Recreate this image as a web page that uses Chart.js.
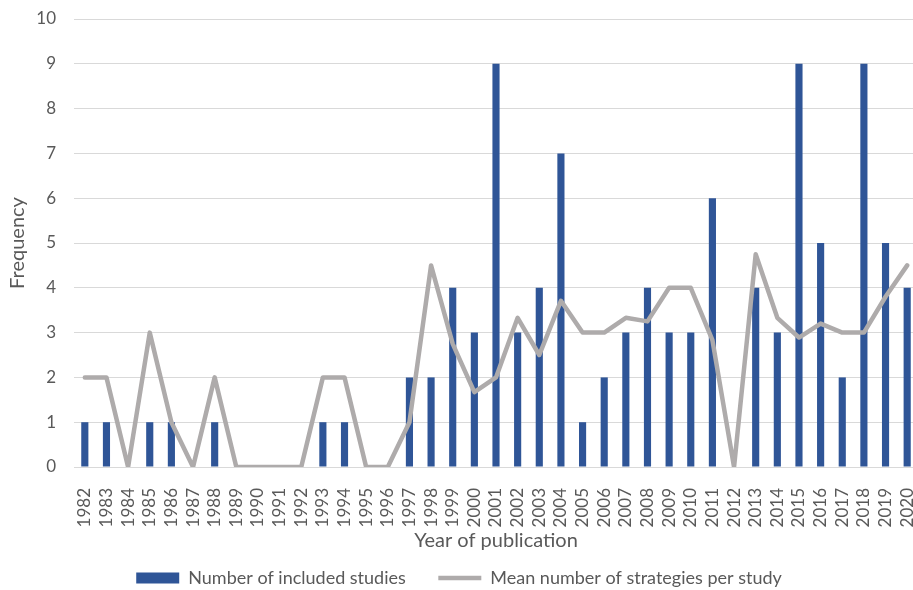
<!DOCTYPE html>
<html lang="en">
<head>
  <meta charset="UTF-8">
  <title>Studies per year</title>
  <style>
    html, body {
      margin: 0;
      padding: 0;
      overflow: hidden;
      background: #fff;
    }
    #chart {
      display: block;
    }
  </style>
</head>
<body>
  <canvas id="chart" width="918" height="597"></canvas>

  <script src="https://cdn.jsdelivr.net/npm/chart.js"></script>
  <script>
    // Data
    const years = [
      '1982', '1983', '1984', '1985', '1986', '1987', '1988', '1989', '1990', '1991',
      '1992', '1993', '1994', '1995', '1996', '1997', '1998', '1999', '2000', '2001',
      '2002', '2003', '2004', '2005', '2006', '2007', '2008', '2009', '2010', '2011',
      '2012', '2013', '2014', '2015', '2016', '2017', '2018', '2019', '2020'
    ];
    const includedStudies = [
      1, 1, 0, 1, 1, 0, 1, 0, 0, 0,
      0, 1, 1, 0, 0, 2, 2, 4, 3, 9,
      3, 4, 7, 1, 2, 3, 4, 3, 3, 6,
      0, 4, 3, 9, 5, 2, 9, 5, 4
    ];
    const meanStrategies = [
      2, 2, 0, 3, 1, 0, 2, 0, 0, 0,
      0, 2, 2, 0, 0, 1, 4.5, 2.75, 1.67, 2,
      3.33, 2.5, 3.71, 3, 3, 3.33, 3.25, 4, 4, 2.83,
      0, 4.75, 3.33, 2.89, 3.2, 3, 3, 3.8, 4.5
    ];
    const yTicks = [0, 1, 2, 3, 4, 5, 6, 7, 8, 9, 10];

    const textColor = '#595959';
    const gridColor = '#d9d9d9';
    const fontFamily = 'Lato, "Open Sans", sans-serif';

    const ctx = document.getElementById('chart').getContext('2d');
    new Chart(ctx, {
      type: 'bar',
      data: {
        labels: years,
        datasets: [
          {
            type: 'bar',
            label: 'Number of included studies',
            data: includedStudies,
            backgroundColor: '#2f5597',
            borderWidth: 0,
            barPercentage: 0.33,
            categoryPercentage: 1,
            order: 1
          },
          {
            type: 'line',
            label: 'Mean number of strategies per study',
            data: meanStrategies,
            borderColor: '#aeabab',
            backgroundColor: '#aeabab',
            borderWidth: 4.5,
            borderJoinStyle: 'round',
            borderCapStyle: 'round',
            pointRadius: 0,
            pointHoverRadius: 0,
            tension: 0,
            order: 0
          }
        ]
      },
      options: {
        responsive: false,
        animation: false,
        layout: { padding: { top: 19, left: 0, right: 0, bottom: 0 } },
        plugins: {
          tooltip: { enabled: false },
          legend: {
            position: 'bottom',
            labels: {
              color: textColor,
              font: { family: fontFamily, size: 18 },
              usePointStyle: true,
              pointStyleWidth: 43,
              boxHeight: 11,
              padding: 10,
              sort: (a, b) => a.datasetIndex - b.datasetIndex,
              generateLabels(chart) {
                const items = Chart.defaults.plugins.legend.labels.generateLabels(chart);
                items.forEach(item => {
                  if (item.datasetIndex === 0) {
                    item.pointStyle = 'rect';
                    item.lineWidth = 0;
                    item.text = item.text + '\u2003\u2002';
                  } else {
                    item.pointStyle = 'line';
                    item.lineWidth = 4.5;
                  }
                });
                return items;
              }
            }
          }
        },
        scales: {
          x: {
            grid: { display: false },
            border: { color: gridColor },
            ticks: {
              color: textColor,
              font: { family: fontFamily, size: 17 },
              minRotation: 90,
              maxRotation: 90,
              autoSkip: false,
              padding: 13
            },
            title: {
              display: true,
              text: 'Year of publication',
              color: textColor,
              font: { family: fontFamily, size: 20 },
              padding: { top: 0, bottom: 6 }
            },
            afterFit(scale) {
              scale.height = 92;
              scale.paddingRight = 0;
              scale.paddingLeft = 0;
            }
          },
          y: {
            min: 0,
            max: 10,
            afterBuildTicks(scale) {
              scale.ticks = yTicks.map(v => ({ value: v }));
            },
            grid: { color: gridColor, drawTicks: false },
            border: { display: false },
            ticks: {
              color: textColor,
              font: { family: fontFamily, size: 17 },
              padding: 18
            },
            title: {
              display: true,
              text: 'Frequency',
              color: textColor,
              font: { family: fontFamily, size: 20 },
              padding: { top: 6, bottom: 0 }
            },
            afterFit(scale) {
              scale.width = 74;
              scale.paddingTop = 0;
              scale.paddingBottom = 0;
            }
          }
        }
      }
    });
  </script>
</body>
</html>
